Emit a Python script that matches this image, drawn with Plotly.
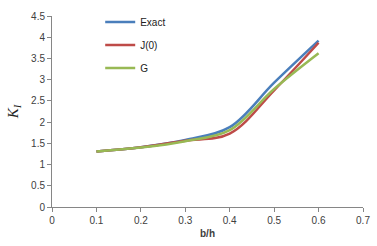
import plotly.graph_objects as go

x_vals = [0.1, 0.2, 0.3, 0.4, 0.5, 0.6]
exact = [1.31, 1.41, 1.58, 1.88, 2.93, 3.92]
j0 = [1.31, 1.41, 1.56, 1.73, 2.75, 3.87]
g = [1.31, 1.40, 1.55, 1.81, 2.78, 3.62]
series = [("Exact", exact, "#4a7ebb"), ("J(0)", j0, "#be4b48"), ("G", g, "#98b954")]

fig = go.Figure()
for i, (name, ys, col) in enumerate(series):
    fig.add_trace(go.Scatter(x=x_vals, y=ys, name=name, mode="lines",
                             line=dict(color=col, width=2.5, shape="spline", smoothing=1.0),
                             legendgroup=str(i)))

axis_common = dict(showgrid=False, zeroline=False, showline=True, linecolor="#868686",
                   linewidth=1, ticks="outside", tickcolor="#868686", ticklen=4,
                   tickfont=dict(family="Liberation Sans", size=10, color="#404040"))
fig.update_layout(
    width=377, height=246,
    margin=dict(l=52, r=14, t=7, b=39),
    paper_bgcolor="white", plot_bgcolor="white",
    xaxis=dict(range=[0, 0.7], dtick=0.1, tickangle=0,
               title=dict(text="<b>b/h</b>", font=dict(family="Liberation Sans", size=10, color="#404040"), standoff=4),
               **axis_common),
    yaxis=dict(range=[0, 4.5], dtick=0.5,
               title=dict(text="<i>K<sub>I</sub></i>", font=dict(family="Liberation Serif", size=15, color="#222222"), standoff=8),
               **axis_common),
    legend=dict(x=0.155, y=1.045, xanchor="left", yanchor="top", bgcolor="rgba(0,0,0,0)",
                font=dict(family="Liberation Sans", size=10, color="#222222"),
                tracegroupgap=4, itemwidth=30),
    showlegend=True,
)
fig.write_html("out.html")
